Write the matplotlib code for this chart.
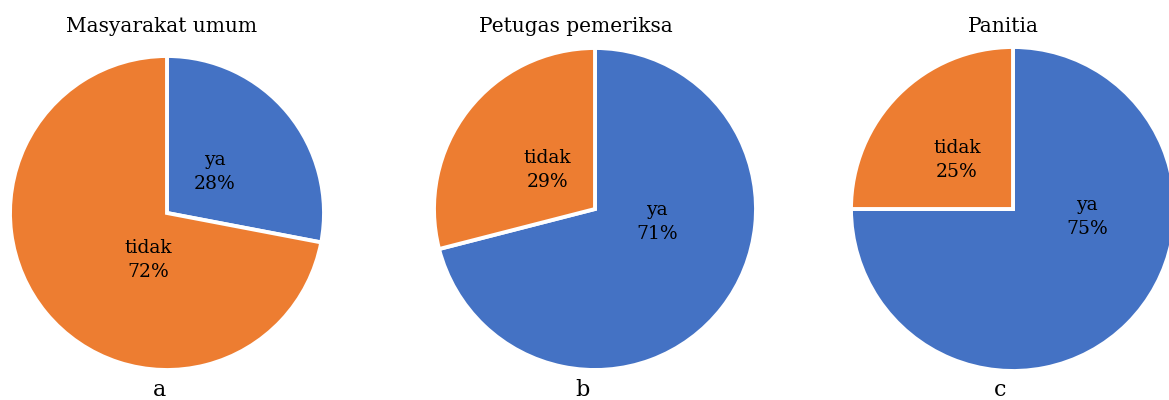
import matplotlib
matplotlib.use("Agg")
import matplotlib.pyplot as plt
import numpy as np

titles = ["Masyarakat umum", "Petugas pemeriksa", "Panitia"]
panel_letters = ["a", "b", "c"]
categories = ["ya", "tidak"]
ya_values = [28, 71, 75]
tidak_values = [72, 29, 25]

BLUE = "#4472C4"
ORANGE = "#ED7D31"
W, H = 1169, 400

# layout (pixels): pie centers / radii, label positions, title/letter positions
centers = [(167, 213), (595, 209), (1013, 209)]
radii = [157, 161, 162]
label_px = [[(215, 172), (148, 260)],
            [(657, 222), (547, 170)],
            [(1087, 217), (957, 160)]]
title_px = [(162, 26), (576, 26), (1003, 26)]
letter_px = [(160, 390), (583, 390), (1000, 390)]

plt.rcParams['font.family'] = ['DejaVu Serif']
fig = plt.figure(figsize=(W / 100, H / 100), dpi=100)

def fx(x):
    return x / W

def fy(y):
    return 1 - y / H

for i in range(3):
    cx, cy = centers[i]
    r = radii[i]
    ax = fig.add_axes([fx(cx - r), fy(cy + r), 2 * r / W, 2 * r / H])
    vals = [ya_values[i], tidak_values[i]]
    ax.pie(vals, colors=[BLUE, ORANGE], startangle=90, counterclock=False,
           wedgeprops=dict(edgecolor="white", linewidth=2.8), radius=1)
    ax.set_xlim(-1, 1)
    ax.set_ylim(-1, 1)
    ax.set_aspect("equal")
    ax.axis("off")
    for j, cat in enumerate(categories):
        lx, ly = label_px[i][j]
        fig.text(fx(lx), fy(ly), f"{cat}\n{vals[j]}%", ha="center", va="center",
                 fontsize=13.5, color="black", linespacing=1.4)
    fig.text(fx(title_px[i][0]), fy(title_px[i][1]), titles[i], ha="center",
             va="center", fontsize=14.5, color="black")
    fig.text(fx(letter_px[i][0]), fy(letter_px[i][1]), panel_letters[i],
             ha="center", va="center", fontsize=16, color="black")

fig.savefig("out.png", dpi=100, facecolor="white")
